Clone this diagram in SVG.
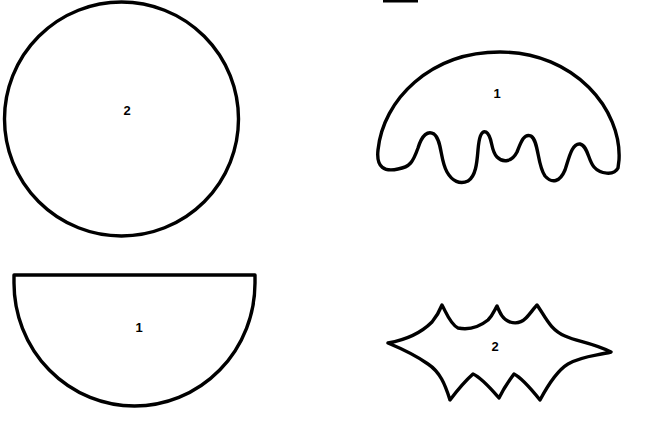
<svg xmlns="http://www.w3.org/2000/svg" width="648" height="427" viewBox="0 0 648 427">
<style>
.s{fill:#fff;stroke:#000;stroke-width:3.4;stroke-linejoin:round;stroke-linecap:round}
.t{font-family:"Liberation Sans",Arial,sans-serif;font-weight:bold;font-size:13px;fill:#000;text-anchor:middle}
</style>
<rect width="648" height="427" fill="#fff"/>
<rect x="383" y="0" width="35" height="2.5" fill="#000"/>
<g id="circle">
<circle class="s" cx="121.5" cy="119" r="117"/>
<text class="t" x="127" y="115">2</text>
</g>
<g id="halfdisk">
<path class="s" d="M14,275 L255,275 L255,283 A120.5,123 0 0 1 14,283 Z"/>
<text class="t" x="139" y="332">1</text>
</g>
<g id="jelly">
<path class="s" d="M619,160 C622,110 575,52 500,52 C430,52 383,100 378,150 C376,168 385,172 398,169 C410,167 413,162 418,148 C422,135 428,130 434,134 C442,140 440,160 447,172 C452,181 460,185 468,181 C476,176 477,162 478,150 C479,138 481,130 486,132 C493,136 490,150 497,157 C503,163 512,162 517,152 C521,142 524,133 531,136 C539,141 537,165 545,176 C552,184 560,182 565,170 C569,158 572,143 580,144 C588,146 588,160 594,167 C600,174 614,176 618,168 Z"/>
<text class="t" x="497" y="98">1</text>
</g>
<g id="bat">
<path class="s" d="M388,343 C405,340 420,334 432,322 C437,316 440,310 442,305 C446,312 450,324 458,328 C468,330 478,328 488,320 C493,315 495,309 497,306 C500,313 503,320 510,322 C516,324 522,322 526,318 C530,314 534,308 537,305 C545,316 550,330 565,336 C578,342 590,342 611,352 C595,356 582,356 568,364 C558,370 548,385 540,400 C532,390 522,378 514,374 C508,382 502,392 499,398 C492,390 482,378 473,374 C464,382 456,392 450,400 C445,384 440,372 428,364 C414,354 400,348 388,343 Z"/>
<text class="t" x="495" y="351">2</text>
</g>
</svg>
